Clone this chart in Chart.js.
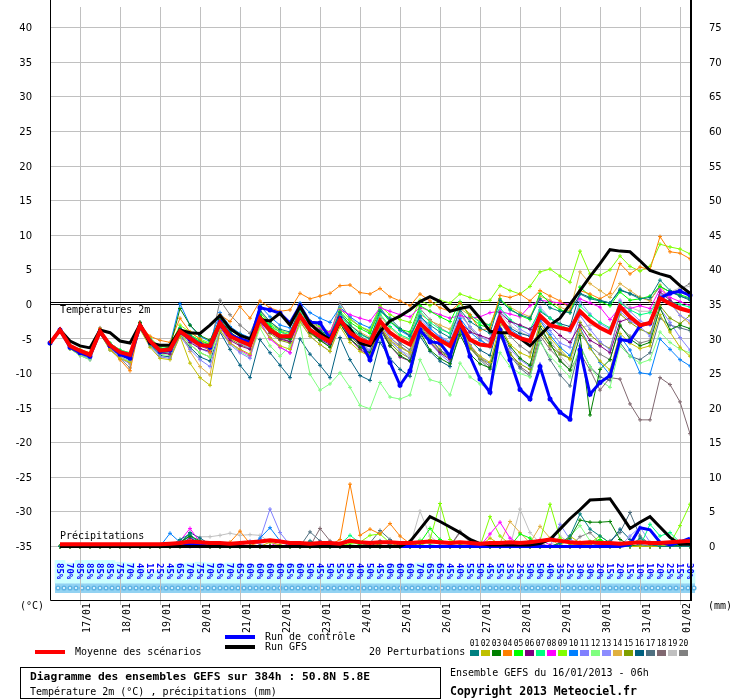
<!DOCTYPE html>
<html lang="fr">
<head>
<meta charset="utf-8">
<title>Diagramme des ensembles GEFS</title>
<script src="https://cdn.jsdelivr.net/npm/chart.js@4.4.1/dist/chart.umd.min.js"></script>
<style>
  html, body { margin: 0; padding: 0; background: #fff; }
  #wrap { width: 740px; height: 700px; }
</style>
</head>
<body>
<div id="wrap"><canvas id="gefs" width="740" height="700"></canvas></div>
<script>
// échéances toutes les 6h, de 0 à 384h (run du 16/01/2013 06h)
const HOURS = [];
for (let h = 0; h <= 384; h += 6) HOURS.push(h);

const DATES = ['17/01', '18/01', '19/01', '20/01', '21/01', '22/01', '23/01', '24/01',
               '25/01', '26/01', '27/01', '28/01', '29/01', '30/01', '31/01', '01/02'];

const TEMP_TICKS = [-35, -30, -25, -20, -15, -10, -5, 0, 5, 10, 15, 20, 25, 30, 35, 40];
const MM_TICKS = [0, 5, 10, 15, 20, 25, 30, 35, 40, 45, 50, 55, 60, 65, 70, 75];

// indice de confiance par pas de 6h (6h .. 384h)
const CONFIANCE = [85, 70, 85, 85, 85, 85, 75, 70, 40, 15,
                   25, 45, 65, 70, 75, 70, 65, 70, 65, 60,
                   60, 60, 60, 65, 60, 50, 45, 50, 55, 50,
                   40, 50, 45, 60, 60, 60, 70, 65, 65, 45,
                   40, 55, 50, 45, 55, 35, 25, 50, 50, 40,
                   35, 25, 30, 30, 20, 15, 20, 15, 10, 10,
                   20, 25, 15, 30];

// Température 2m (°C)
const T_MEAN = [-5.6,-3.7,-6.0,-6.7,-7.3,-3.9,-5.9,-6.9, -7.3,-3.0,-5.3,-6.7,-6.5,-3.9,-4.9,-5.9,
  -6.0,-2.7,-4.6,-5.3,-5.9,-2.0,-3.7,-4.6, -4.6,-1.6,-3.7,-4.6,-5.4,-2.2,-4.1,-5.1,
  -5.6,-2.4,-4.1,-5.1,-5.8,-2.7,-4.1,-5.2, -6.0,-2.7,-5.1,-5.8,-6.0,-2.0,-4.1,-4.9,
  -5.3,-1.6,-3.0,-3.4,-3.7,-1.0,-2.4,-3.4, -4.1,-0.3,-1.8,-3.0,-2.7,0.9,0.1,-0.6, -1.0];
const T_CONTROL = [-5.6,-3.7,-6.2,-7.0,-7.5,-4.0,-6.0,-7.2, -7.8,-3.2,-5.4,-6.8,-6.6,-4.0,-5.0,-5.8,
  -6.2,-2.6,-4.4,-5.0,-5.4,-0.5,-0.8,-1.3, -2.7,-0.2,-2.6,-2.7,-4.9,-2.0,-4.5,-5.2,
  -8.0,-4.1,-8.4,-11.7,-9.6,-3.7,-5.4,-5.6, -7.5,-2.7,-7.5,-10.8,-12.7,-3.7,-8.0,-12.3,
  -13.7,-9.0,-13.7,-15.6,-16.6,-6.6,-13.0,-11.3, -10.3,-5.1,-5.3,-3.1,-2.7,0.9,1.6,1.9, 1.3];
const T_GFS = [-5.6,-3.7,-5.3,-6.0,-6.3,-3.7,-4.1,-5.3, -5.6,-2.9,-5.6,-5.9,-5.9,-3.7,-4.1,-4.2,
  -3.0,-1.6,-3.5,-4.5,-5.0,-2.2,-2.4,-1.3, -3.0,-0.3,-2.8,-4.1,-5.1,-2.5,-3.5,-5.6,
  -6.0,-3.9,-2.4,-1.7,-0.8,0.4,1.1,0.4, -1.0,-0.6,-0.3,-2.0,-3.9,-4.1,-4.1,-4.9,
  -6.0,-4.5,-3.0,-2.0,0.0,2.0,4.0,5.9, 7.9,7.7,7.6,6.3,4.9,4.4,4.0,2.7, 1.6];

const T_P01 = [-5.6,-3.6,-6.2,-7.0,-7.6,-3.8,-6.0,-7.2, -7.8,-3.2,-5.8,-7.0,-6.8,-3.5,-4.5,-5.5,
  -6.2,-2.0,-3.8,-4.4,-5.0,-1.0,-2.5,-3.6, -4.0,-0.6,-2.8,-3.8,-4.5,-1.2,-3.0,-4.2,
  -5.0,-1.0,-2.0,-3.5,-4.6,-1.8,-3.0,-4.0, -4.8,-0.8,-2.5,-3.4,-4.2,0.6,-0.8,-1.5,
  -2.0,0.8,-0.5,-1.0,-1.2,1.5,0.8,0.5, 0.2,2.2,1.5,0.8,1.0,3.5,2.0,1.2, 0.8];
const T_P02 = [-5.6,-3.8,-6.4,-7.2,-7.6,-4.2,-6.6,-7.8, -8.4,-3.6,-6.2,-7.8,-8.0,-4.6,-8.5,-10.6,
  -11.7,-3.8,-5.6,-6.5,-7.2,-3.0,-4.8,-6.0, -6.5,-2.5,-4.6,-5.8,-6.8,-3.2,-5.5,-6.8,
  -7.5,-3.0,-5.2,-6.2,-7.0,-2.8,-4.6,-6.0, -7.2,-3.4,-6.0,-7.5,-8.4,-3.0,-5.8,-7.0,
  -7.6,-2.8,-4.8,-6.5,-8.0,-3.6,-6.4,-8.2, -9.5,-4.2,-5.6,-6.4,-6.0,-1.5,-4.0,-6.2, -7.5];
const T_P03 = [-5.6,-3.7,-6.1,-6.9,-7.4,-3.7,-5.8,-6.8, -7.2,-2.6,-5.2,-6.5,-6.2,-0.6,-3.0,-4.5,
  -5.2,-2.2,-4.0,-5.0,-5.8,-1.8,-3.5,-4.8, -5.0,-1.5,-4.0,-5.2,-6.2,-2.8,-5.0,-6.2,
  -7.0,-3.6,-6.0,-7.4,-8.2,-4.0,-6.6,-7.8, -8.6,-4.4,-7.2,-8.6,-9.2,-3.6,-6.0,-7.8,
  -8.8,-3.2,-5.6,-8.2,-9.5,-4.5,-16.0,-9.4, -8.0,-3.0,-5.0,-6.0,-5.5,-0.5,-3.7,-3.0, -3.5];
const T_P04 = [-5.6,-3.6,-6.0,-6.6,-7.0,-3.5,-6.4,-8.0, -9.6,-3.0,-4.6,-5.2,-5.5,-2.0,-4.0,-5.0,
  -7.0,-1.5,-2.5,-0.3,-2.0,0.5,-0.5,-1.0, -0.8,1.6,0.8,1.2,1.6,2.7,2.8,1.7,
  1.5,2.3,1.1,0.5,-0.2,1.5,0.5,-0.5, -1.0,0.2,-1.5,-3.7,-3.5,1.3,1.0,1.5,
  0.5,2.0,1.2,0.5,-0.5,2.0,1.5,0.8, 1.6,5.9,4.4,5.4,5.0,9.8,7.6,7.4, 6.6];
const T_P05 = [-5.6,-3.7,-6.3,-7.0,-7.5,-4.0,-6.2,-7.0, -7.5,-3.4,-5.5,-6.8,-6.6,-3.6,-4.4,-5.2,
  -5.8,-2.5,-4.3,-5.0,-5.6,-1.5,-3.2,-4.4, -5.0,-0.6,-3.0,-3.8,-4.6,-1.0,-2.6,-3.5,
  -4.2,-0.8,-2.5,-3.6,-4.0,-0.2,-1.0,-1.8, -2.5,0.4,-1.8,-3.0,-3.4,0.8,-0.6,-1.6,
  -2.2,1.6,0.2,-0.8,-1.2,2.5,1.2,0.4, -0.2,1.8,0.6,0.8,1.2,2.6,1.8,1.4, 0.9];
const T_P06 = [-5.6,-3.8,-6.2,-6.8,-7.3,-3.8,-6.0,-7.0, -7.4,-3.2,-5.6,-7.0,-7.2,-4.0,-5.5,-6.4,
  -6.8,-3.2,-5.2,-6.0,-6.5,-2.6,-4.0,-5.0, -5.4,-2.0,-4.0,-5.0,-5.8,-2.8,-5.0,-6.5,
  -7.5,-3.2,-6.0,-7.6,-8.2,-3.5,-5.5,-7.0, -8.0,-2.6,-4.0,-4.5,-5.0,-1.2,-2.5,-3.0,
  -3.6,-2.0,-3.2,-4.5,-5.5,-3.0,-5.2,-6.0, -7.0,-2.5,-2.0,-3.0,-2.8,1.8,0.6,-0.4, -1.0];
const T_P07 = [-5.6,-3.6,-6.0,-6.6,-7.1,-3.7,-5.6,-6.6, -7.0,-2.8,-5.0,-6.4,-6.2,-3.4,-4.5,-5.4,
  -5.8,-2.4,-4.2,-5.0,-5.4,-1.5,-3.0,-4.0, -4.4,-1.0,-3.0,-4.0,-4.8,-1.4,-3.4,-4.4,
  -5.0,-1.4,-3.2,-4.4,-5.0,-1.0,-2.6,-3.6, -4.2,0.2,-1.5,-2.6,-3.0,-0.5,-2.2,-3.2,
  -3.6,-0.8,-2.0,-3.0,-3.6,-0.2,-1.6,-2.6, -3.4,0.2,-0.8,-1.5,-1.2,1.0,0.4,0.0, -0.4];
const T_P08 = [-5.6,-3.7,-6.1,-6.8,-7.2,-3.9,-6.1,-7.0, -7.4,-3.0,-5.4,-6.8,-6.7,-3.9,-5.0,-6.0,
  -6.4,-3.2,-5.5,-6.6,-7.4,-2.6,-5.0,-6.2, -7.0,-1.4,-3.0,-3.6,-4.0,-0.8,-1.5,-2.0,
  -2.4,-0.5,-1.0,-1.5,-1.8,-0.4,-1.0,-1.5, -2.0,-1.6,-2.0,-1.8,-1.2,-1.0,-1.4,-1.8,
  -0.2,0.6,0.4,0.2,0.0,0.8,0.2,-0.4, -2.2,-0.4,-0.6,-0.2,-0.6,2.2,1.0,0.4, -0.2];
const T_P09 = [-5.6,-3.6,-5.9,-6.5,-7.0,-3.6,-5.6,-6.6, -7.0,-2.8,-4.8,-6.2,-6.0,-3.0,-4.0,-5.0,
  -5.6,-2.0,-3.5,-4.4,-5.0,-1.2,-2.8,-3.8, -4.2,-0.8,-2.4,-3.2,-4.0,-0.6,-2.2,-3.2,
  -3.8,-0.2,-1.5,-2.2,-2.6,0.6,-0.2,0.6, 0.2,1.5,1.0,0.5,0.6,2.7,2.0,1.5,
  2.6,4.7,5.1,4.1,3.2,7.7,4.4,4.2, 5.0,7.0,5.5,4.8,5.5,8.7,8.3,8.0, 7.3];
const T_P10 = [-5.6,-3.7,-6.0,-6.8,-7.2,-3.8,-5.8,-6.8, -7.2,-3.0,-5.0,-6.2,-5.8,0.1,-3.0,-4.6,
  -5.4,-1.2,-3.2,-4.2,-4.8,-0.2,-1.8,-3.0, -3.4,0.2,-1.2,-2.0,-2.6,-0.4,-1.8,-2.8,
  -3.4,-0.5,-2.5,-3.8,-4.6,-1.6,-3.4,-4.8, -5.6,-2.0,-4.0,-5.2,-6.0,-1.8,-3.6,-4.6,
  -5.4,-2.4,-4.4,-6.2,-7.4,-3.4,-6.2,-8.4, -10.2,-4.6,-6.6,-9.9,-10.1,-5.0,-6.5,-8.0, -8.9];
const T_P11 = [-5.6,-3.7,-6.3,-7.2,-7.8,-4.0,-6.6,-7.8, -8.6,-3.4,-6.0,-7.6,-7.8,-4.6,-6.5,-8.0,
  -9.0,-3.8,-5.8,-7.0,-7.8,-2.6,-4.8,-6.2, -7.0,-2.4,-4.6,-5.8,-6.8,-2.6,-4.4,-5.6,
  -6.6,-3.0,-5.2,-6.6,-7.8,-3.4,-5.6,-7.2, -8.4,-3.2,-5.8,-7.6,-8.6,-3.8,-6.4,-8.0,
  -9.0,-2.2,-3.8,-5.6,-6.2,-1.6,-3.6,-5.4, -6.6,-1.0,-2.4,-3.2,-4.6,-0.6,-2.6,-4.8, -6.6];
const T_P12 = [-5.6,-3.8,-6.4,-7.4,-8.0,-4.2,-6.6,-7.8, -8.2,-3.6,-5.8,-7.2,-7.4,-4.2,-5.8,-7.0,
  -7.6,-3.4,-5.6,-6.8,-7.6,-3.4,-6.0,-7.5, -6.0,-3.0,-10.1,-12.4,-11.5,-9.9,-12.0,-14.6,
  -15.1,-11.3,-13.4,-13.7,-13.1,-8.0,-10.9,-11.3, -13.1,-8.5,-10.5,-11.5,-12.3,-7.0,-9.0,-10.0,
  -10.5,-5.5,-7.5,-9.0,-10.5,-6.0,-9.0,-11.0, -12.0,-6.0,-7.5,-8.5,-8.0,-4.0,-5.5,-6.5, -7.0];
const T_P13 = [-5.6,-3.7,-6.2,-7.0,-7.5,-4.0,-6.4,-7.6, -8.2,-3.4,-5.8,-7.2,-7.0,-3.6,-5.2,-6.4,
  -7.0,-2.8,-4.6,-5.6,-6.4,-2.0,-3.6,-4.6, -5.2,-1.2,-3.6,-5.0,-6.0,-2.4,-4.4,-5.8,
  -6.8,-2.8,-4.8,-6.2,-7.0,-2.0,-3.6,-4.6, -5.4,-1.4,-3.2,-4.6,-5.4,-0.8,-2.4,-3.6,
  -4.4,-0.4,-2.0,-3.2,-4.0,0.4,-1.4,-2.8, -3.6,0.6,-1.0,-2.4,-3.0,1.4,0.2,-1.6, -2.4];
const T_P14 = [-5.6,-3.6,-6.2,-7.0,-7.4,-3.8,-6.2,-7.4, -8.6,-3.0,-5.2,-6.8,-7.2,-3.8,-6.8,-9.0,
  -10.2,-3.0,-4.2,-5.0,-5.6,-1.8,-3.2,-4.0, -4.6,-0.8,-2.6,-3.6,-4.2,-1.4,-3.0,-4.0,
  -4.8,-1.6,-3.4,-4.6,-5.2,-1.4,-2.4,-3.0, -3.6,-0.6,-1.6,-2.4,-3.0,0.6,-0.4,-1.2,
  -1.8,1.2,0.6,-0.4,-1.0,4.7,3.0,2.0, 1.0,3.0,2.0,1.0,0.5,2.8,0.6,-1.6, -2.8];
const T_P15 = [-5.6,-3.7,-6.0,-6.7,-7.2,-3.9,-6.0,-7.0, -7.6,-3.2,-5.6,-7.0,-7.0,-4.2,-5.8,-7.0,
  -7.6,-3.0,-5.0,-5.8,-6.4,-2.4,-4.2,-5.2, -5.6,-2.2,-4.2,-5.2,-6.0,-2.4,-4.6,-5.8,
  -6.8,-3.2,-5.6,-7.0,-7.8,-3.0,-5.4,-6.8, -7.8,-4.0,-6.4,-7.8,-8.6,-4.6,-7.2,-8.6,
  -9.4,-4.0,-6.0,-7.2,-7.8,-2.6,-4.4,-5.6, -6.4,-1.4,-2.6,-3.6,-4.2,-0.2,-2.0,-2.8, -1.6];
const T_P16 = [-5.6,-3.8,-6.4,-7.2,-7.8,-4.0,-6.4,-7.4, -8.0,-3.4,-5.8,-7.4,-7.6,-4.4,-6.2,-7.6,
  -8.2,-4.0,-6.5,-8.8,-10.6,-5.1,-7.0,-8.8, -10.6,-5.0,-7.2,-8.8,-10.6,-4.8,-8.0,-10.3,
  -11.0,-5.5,-7.8,-9.4,-10.4,-4.6,-6.8,-8.2, -9.0,-3.8,-5.2,-6.6,-7.4,-2.2,-3.4,-4.2,
  -4.6,-1.0,-2.0,-2.8,-3.2,1.6,1.0,0.6, 0.2,2.0,1.6,1.0,0.6,2.6,1.8,1.2, 0.6];
const T_P17 = [-5.6,-3.6,-6.2,-7.0,-7.6,-3.6,-5.8,-7.0, -7.6,-3.0,-5.2,-6.6,-6.4,-3.4,-4.6,-5.6,
  -6.2,-2.4,-4.4,-5.4,-6.0,-1.6,-3.4,-4.6, -5.0,-1.6,-3.6,-4.8,-5.6,-1.8,-3.6,-4.6,
  -5.4,-2.0,-4.2,-5.6,-6.6,-2.4,-4.8,-6.6, -7.6,-3.8,-6.2,-8.0,-9.4,-4.6,-7.4,-9.2,
  -10.4,-5.2,-8.0,-10.2,-11.8,-6.0,-9.0,-10.5, -11.0,-5.5,-7.5,-8.0,-7.0,-2.0,-3.0,-3.4, -3.8];
const T_P18 = [-5.6,-3.7,-6.1,-6.9,-7.4,-3.9,-6.0,-7.0, -7.5,-3.2,-5.4,-6.8,-6.7,-3.8,-5.0,-6.0,
  -6.6,-2.8,-4.6,-5.4,-6.0,-1.8,-3.6,-4.8, -5.4,-2.0,-4.0,-5.2,-6.0,-2.4,-4.6,-6.0,
  -6.8,-2.6,-4.8,-6.0,-7.0,-2.8,-5.0,-6.6, -7.6,-3.2,-6.0,-7.8,-9.0,-4.0,-7.0,-9.0,
  -10.0,-4.5,-6.5,-8.0,-9.5,-7.0,-9.5,-12.4, -10.6,-10.8,-14.4,-16.7,-16.7,-10.6,-11.6,-14.1, -18.7];
const T_P19 = [-5.6,-3.7,-6.2,-7.0,-7.5,-3.8,-6.0,-7.2, -7.8,-3.4,-5.6,-7.0,-7.0,-3.8,-5.2,-6.4,
  -7.0,-2.8,-4.6,-5.6,-6.2,-2.0,-3.8,-5.0, -5.4,-1.8,-3.6,-4.6,-5.2,-2.6,-4.8,-6.4,
  -7.2,-3.4,-5.4,-6.6,-7.4,-2.4,-4.2,-5.4, -6.2,-1.6,-3.2,-4.6,-5.6,-1.4,-3.0,-4.0,
  -4.6,-2.0,-5.0,-7.4,-9.0,-3.4,-3.0,-3.4, -4.0,0.4,-0.4,-1.0,-1.0,1.4,1.8,2.4, 2.6];
const T_P20 = [-5.6,-3.7,-6.4,-7.4,-8.0,-3.4,-6.4,-7.8, -9.2,-2.6,-5.0,-6.4,-6.6,-3.6,-4.8,-5.8,
  -6.4,0.6,-1.5,-3.0,-4.2,-0.8,-2.5,-3.8, -4.6,-0.5,-2.4,-3.4,-4.4,0.2,-2.0,-3.2,
  -4.0,-0.4,-2.4,-3.6,-4.4,-0.6,-2.2,-3.4, -4.2,-1.0,-3.4,-5.0,-6.2,-2.6,-4.6,-6.0,
  -7.0,-3.6,-5.6,-7.0,-7.8,-4.2,-6.0,-7.2, -8.0,-3.2,-4.6,-5.6,-5.2,1.2,1.6,2.2, 3.0];

// Précipitations (mm / 6h)
const R_MEAN = [null,0.3,0.3,0.3,0.3,0.3,0.3,0.3,0.3,0.3,0.3,0.3,0.4,
  0.5,0.7,0.6,0.5,0.5,0.4,0.5,0.6,0.7,0.9,0.7,0.5,0.5,
  0.4,0.5,0.5,0.4,0.8,0.6,0.5,0.6,0.6,0.5,0.5,0.6,0.7,
  0.6,0.5,0.6,0.5,0.4,0.5,0.5,0.6,0.5,0.6,0.8,1.0,0.8,
  0.6,0.5,0.6,0.5,0.5,0.4,0.5,0.6,0.5,0.5,0.6,0.7,0.8];
const R_CONTROL = [null,0,0,0,0,0,0,0,0,0,0,0,0, 0,0.3,0.2,0,0,0,0,0,0,0,0,0,0,
  0,0,0,0,0,0,0,0,0,0,0,0,0, 0,0,0,0,0,0,0,0,0,0,0,0,0,
  0,0,0,0,0,0,0.3,2.7,2.4,0.6,0.2,0.6,1.2];
const R_GFS = [null,0,0,0,0,0,0,0,0,0,0,0,0, 0,0,0,0,0,0,0,0,0,0,0,0,0,
  0,0,0,0,0,0,0,0,0,0,0.7,2.5,4.3, 3.6,2.8,2.0,1.0,0.4,0.2,0.2,0.2,0.2,0.2,0.4,1.0,2.5,
  4.0,5.3,6.7,6.8,6.9,4.8,2.6,3.5,4.3,2.8,1.3,0.3,0.3];

const R_P01 = [null,0,0,0,0,0,0,0,0,0,0,0,0, 1.0,1.8,0.3,0,0,0,0,0,0,0,0,0,0,
  0.8,0.2,0,0,0,0,0,0,0,0,0,0,0, 0,0,0,0,0,0,0,0,0,0,0,0,0.4,
  1.5,4.7,2.5,1.5,0.5,0,0,1.2,0.3,0,0,0,0];
const R_P02 = [null,0,0,0,0,0,0,0,0,0,0,0,0, 0.3,0.8,0.2,0,0,0,0,0,0,0.6,0.2,0,0,
  0,0,0,0,0,0,0,0,0,0,0,0,0, 0,0,0,0,0,1.2,0.3,0,0,0,0,0,0,
  1.5,0.5,0,0,0,0,0,0,0,0,0.3,0.5,0.6];
const R_P03 = [null,0,0,0,0,0,0,0,0,0,0,0,0.2, 0.6,1.5,0.8,0.2,0,0,0,0,0,0,0,0,0,
  0,0,0,0,0,0,0,0,0,0,0,0,0, 0,0,0,0,0,0,0,0,0,0,0,0,0.5,
  1.2,3.8,3.5,3.5,3.6,1.0,0.2,0,0,0,0,0.2,0.4];
const R_P04 = [null,0,0,0,0,0,0,0,0,0,0,0,0, 0,0.3,0.2,0,0,0.6,2.2,0.4,0,0,0,0,0,
  0,0,0.2,1.0,9.0,1.6,2.5,1.8,3.3,1.5,0.4,0,0, 0,0,0,0,0,0,0,0,0,0,0,0,0,
  0,0.6,0.2,0,0,0,0,0,0,0,0,0,0];
const R_P05 = [null,0,0,0,0,0,0,0,0,0,0,0,0, 0.4,1.6,0.5,0,0,0,0,0,0,0,0,0,0,
  0,0,0,0,0.8,0.2,0,0,0,0,0,0.5,2.6, 1.0,0.3,0,0,0,0,0,0,1.8,1.2,0,0,0,
  0,0.3,0.5,1.0,0.3,0,0,0,0,0,0,0,0];
const R_P06 = [null,0,0,0,0,0,0,0,0,0,0,0,0, 0.3,1.2,0.4,0,0,0,0,0,0,0,0,0,0,
  0,0.6,0.2,0,0,0,0,0,0,0,0,0,0, 0,0,0,0,0,0,0,0,0,0.8,0.3,0,0,
  0,0,0,0,0,0,0,0,0,0.3,0.5,0.4,0.3];
const R_P07 = [null,0,0,0,0,0,0,0,0,0,0,0,0, 0,0.5,0.3,0,0,0,0,0,0,0,0,0,0,
  0,0,0,0.3,1.6,0.5,0,0,0,0,0,0,0, 0,0,0,0,0,0,0,0,0,0,0,0,0,
  0,0.4,0.6,0,0,0,0,0,3.2,1.5,2.0,0.6,0.3];
const R_P08 = [null,0,0,0,0,0,0,0,0,0,0,0,0, 0.8,2.6,0.6,0,0,0,0,0,0,0,0.8,0.2,0,
  0,0,0,0,0,0,0,0,0,0,0,0,0, 0,0,0,0,0,1.8,3.5,1.2,0.3,0,1.0,0.2,0,
  0,0,0,0.3,0.2,0,0,0,0,0,0,0.8,0.4];
const R_P09 = [null,0,0,0,0,0,0,0,0,0,0,0,0, 0,0.4,0.2,0,0,0,0,0,0,0,0,0,0,
  0,0,0,0,0.4,0.6,1.6,1.8,0.5,0,0,0,1.0, 6.2,1.0,0.3,0,0,4.3,1.5,0.3,0,0,0.8,6.1,1.2,
  0.3,0,0.5,1.5,0.5,0,0,0,0,0,0.4,3.0,6.1];
const R_P10 = [null,0,0,0,0,0,0,0,0,0,0,0,1.9, 0.6,1.4,0.3,0,0,0,0,0,1.2,2.7,0.8,0,0,
  0,0,0,0,0,0,0,0,0,0,0,0,0, 0,0,0,0,0,0,0,0,0,0,0,0,0,
  0,0,0,0,0,0.3,0.6,0.3,0,0,0,0.4,0.8];
const R_P11 = [null,0,0,0,0,0,0,0,0,0,0,0,0, 0,0.3,0,0,0,0,0,0,1.0,5.4,2.0,0.2,0,
  0,0,0,0,0,0,0,0,0,0,0,0,0, 0,0,0,0,0,0,0,0,0,0,0,0,3.2,
  1.0,0.2,0,0,0,0,0,0,0,0,0,0.3,0];
const R_P12 = [null,0,0,0,0,0,0,0,0,0,0,0,0, 0,0.3,0,0,0,0,0,0,0,0,0,0,0,
  0,0,0,0,0.3,0,0,0,0,0,0,1.0,0.3, 0,0,0,0,0,0,0,0,0,0,0,0,0,
  1.5,3.0,0.8,0,0,0,0,0,0,0,0,0,0];
const R_P13 = [null,0,0,0,0,0,0,0,0,0,0,0,0, 0,0.5,0.2,0,0,0,0,0.8,0.3,0,0,0,0,
  0,0,0,0,0,0,0,0,0,0,0,0,0, 0,0,0,0,0,0,0,0,0,0,0,0,0,
  0,0,0,0,0,0,1.5,2.8,0.6,0,0,0,0];
const R_P14 = [null,0,0,0,0,0,0,0,0,0,0,0,0, 0,0.2,0,0,0,0,0,0,0,0,0,0,0,
  0,0,0,0,0,0,0,0,0,0,0.8,0.3,0, 0,0,0,0,0,0,0.5,3.6,2.0,0.5,2.9,1.2,0,
  0,0,0,0,0,0,0,0,0,0,0,0.3,0.4];
const R_P15 = [null,0,0,0,0,0,0,0,0,0,0,0,0, 0.2,0.6,0.2,0,0,0,0,0,0,0,0,0,0,
  0,0,0,0,0,0,0.5,0.2,0,0,0,0,0, 0,0,0,0,0,0,0,0,0,0,0,0,0,
  0,0,0.3,0.8,0.3,0,0,0,0,0,0,0,0];
const R_P16 = [null,0,0,0,0,0,0,0,0,0,0,0,0, 0.5,2.0,1.2,0.3,0,0,0,0,0,0,0,0,0,
  0,0,0,0,0,0,0,0.8,0.2,0,0,0,0, 0,0,0,0,0,0,0,0,0,0,0,0,0,
  0,0,0,0,0.5,2.5,1.0,0,0,0,0,0,0];
const R_P17 = [null,0,0,0,0,0,0,0,0,0,0,0,0, 0,0,0,0,0,0,0,0,0,0,0,0,0,
  2.1,0.8,0,0,0,0,0.5,2.3,1.0,0,0,0,0, 0,0,0,0,0,0,0,0,0,0,0,0,0,
  0,0,0,0,0.8,2.0,4.9,1.5,0.3,0,0,0,0];
const R_P18 = [null,0,0,0,0,0,0,0,0,0,0,0,0, 0,0,0,0,0,0,0,0,0,0,0,0,0,
  0,2.6,0.8,0,0,0,0,0,0,0,0,0,0, 0,0,2.0,0.6,0,0,0,0,0,0,0,0,0,
  0,0,0,0,0,0,0,0,0,0,0,0,0];
const R_P19 = [null,0,0,0,0,0,0,0,0,0,0,0,0, 0,0.4,1.4,1.4,1.6,1.9,1.6,1.7,1.6,0.6,0,0,0,
  0,0,0,0,0,0,0,0,0,0,0,5.1,1.5, 0.3,0,0,0,0,0,0,0,5.4,2.0,0.5,0,1.5,
  0.5,0,0,0,0,0,0,1.0,0.3,0,0,0,0];
const R_P20 = [null,0,0,0,0,0,0,0,0,0,0,0,0, 0.5,1.8,0.4,0,0,0,0,0,0,0,0,0,0,
  0,0,0,0,0,0,0,0,0,0,0,0,0, 0,0,2.2,1.0,0,0,0,0,0,0,0,0,0,
  0,1.4,2.0,0.5,0,0,0,0,0,0,0,0,0];

const PERT_T = [T_P01, T_P02, T_P03, T_P04, T_P05, T_P06, T_P07, T_P08, T_P09, T_P10,
                T_P11, T_P12, T_P13, T_P14, T_P15, T_P16, T_P17, T_P18, T_P19, T_P20];
const PERT_R = [R_P01, R_P02, R_P03, R_P04, R_P05, R_P06, R_P07, R_P08, R_P09, R_P10,
                R_P11, R_P12, R_P13, R_P14, R_P15, R_P16, R_P17, R_P18, R_P19, R_P20];

const PERT_COLORS = ['#008080', '#c0c000', '#008000', '#ff8000', '#00ff00', '#800080', '#00ff80',
                     '#ff00ff', '#80ff00', '#0080ff', '#8080ff', '#80ff80', '#8c8cff', '#e0b040',
                     '#80a000', '#006080', '#507080', '#806870', '#c0c0c0', '#808080'];

const GRID = '#c0c0c0';
const MONO = '"DejaVu Sans Mono", "Liberation Mono", monospace';
const BAND_BASE = -44;   // pied des barres de confiance (583 px)

function isDayIndex(i) {
    return (i + 1) % 4 === 0;
}

// jeux de données
const datasets = [];

datasets.push({ label: 'Moyenne', data: T_MEAN, borderColor: '#ff0000', borderWidth: 4,
                pointRadius: 0, order: 0, yAxisID: 'y' });
datasets.push({ label: 'Moyenne pr', data: R_MEAN, borderColor: '#ff0000', borderWidth: 4,
                pointRadius: 0, order: 0, yAxisID: 'y2' });
datasets.push({ label: 'GFS', data: T_GFS, borderColor: '#000000', borderWidth: 3,
                pointRadius: 0, order: 1, yAxisID: 'y' });
datasets.push({ label: 'GFS pr', data: R_GFS, borderColor: '#000000', borderWidth: 3,
                pointRadius: 0, order: 1, yAxisID: 'y2' });
datasets.push({ label: 'Contrôle', data: T_CONTROL, borderColor: '#0000ff', borderWidth: 3,
                pointRadius: 1, pointBackgroundColor: '#0000ff', pointBorderColor: '#0000ff',
                order: 2, yAxisID: 'y' });
datasets.push({ label: 'Contrôle pr', data: R_CONTROL, borderColor: '#0000ff', borderWidth: 3,
                pointRadius: 0, order: 2, yAxisID: 'y2' });

PERT_T.forEach((serie, k) => {
    const c = PERT_COLORS[k];
    const common = { borderColor: c, borderWidth: 1, pointStyle: 'cross', pointRadius: 2,
                     pointBorderWidth: 1, pointBorderColor: c, pointBackgroundColor: c,
                     order: 3 + k };
    datasets.push(Object.assign({ label: 'P' + (k + 1), data: serie, yAxisID: 'y' }, common));
    datasets.push(Object.assign({ label: 'P' + (k + 1) + ' pr', data: PERT_R[k], yAxisID: 'y2' }, common));
});

datasets.push({
    type: 'bar',
    label: 'Confiance',
    data: [null].concat(CONFIANCE.map(p => [BAND_BASE, p])),
    backgroundColor: '#ccffff',
    borderWidth: 0,
    barPercentage: 1,
    categoryPercentage: 1,
    clip: false,
    yAxisID: 'yp',
    order: 100
});

function drawBand(ctx, left, right) {
    ctx.fillStyle = '#92d2f2';
    ctx.fillRect(left, 583, right - left, 10);
    for (let x = left; x < right; x += 6) {
        ctx.fillStyle = '#5fb4e4';
        ctx.beginPath();
        ctx.arc(x + 3, 588, 2.6, 0, Math.PI * 2);
        ctx.fill();
        ctx.fillStyle = '#d4f0ff';
        ctx.fillRect(x + 2, 587, 2, 2);
    }
}

const decor = {
    id: 'decor',
    beforeDatasetsDraw(chart) {
        const ctx = chart.ctx;
        const area = chart.chartArea;
        const y0 = chart.scales.y.getPixelForValue(0);
        ctx.save();
        drawBand(ctx, area.left + 5, area.right + 5);
        ctx.strokeStyle = '#000';
        ctx.lineWidth = 1;
        ctx.beginPath();
        ctx.moveTo(area.left, Math.round(y0) - 1.5);
        ctx.lineTo(area.right, Math.round(y0) - 1.5);
        ctx.moveTo(area.left, Math.round(y0) + 0.5);
        ctx.lineTo(area.right, Math.round(y0) + 0.5);
        ctx.stroke();
        ctx.restore();
    },
    afterDatasetsDraw(chart) {
        const ctx = chart.ctx;
        const area = chart.chartArea;
        const xs = chart.scales.x;
        const ys = chart.scales.y;
        const y2 = chart.scales.y2;
        ctx.save();

        // lignes de jours à travers la bande
        ctx.strokeStyle = GRID;
        ctx.lineWidth = 1;
        HOURS.forEach((h, i) => {
            if (!isDayIndex(i)) return;
            const x = Math.round(xs.getPixelForValue(i)) + 0.5;
            ctx.beginPath();
            ctx.moveTo(x, 552);
            ctx.lineTo(x, area.bottom + 5);
            ctx.stroke();
        });

        // pourcentages
        ctx.fillStyle = '#0000ff';
        ctx.font = 'bold 9px ' + MONO;
        ctx.textAlign = 'left';
        ctx.textBaseline = 'middle';
        CONFIANCE.forEach((p, k) => {
            const x = xs.getPixelForValue(k + 1) - 1;
            ctx.save();
            ctx.translate(x, 563);
            ctx.rotate(Math.PI / 2);
            ctx.fillText(p + '%', 0, 0);
            ctx.restore();
        });

        // cadre
        ctx.strokeStyle = '#000';
        ctx.lineWidth = 1;
        ctx.beginPath();
        ctx.moveTo(area.left + 0.5, 0);
        ctx.lineTo(area.left + 0.5, area.bottom + 0.5);
        ctx.lineTo(area.right, area.bottom + 0.5);
        ctx.stroke();
        ctx.lineWidth = 2;
        ctx.beginPath();
        ctx.moveTo(area.right + 1, 0);
        ctx.lineTo(area.right + 1, area.bottom + 1);
        ctx.stroke();

        // graduations
        ctx.fillStyle = '#000';
        ctx.font = '10px "DejaVu Sans", sans-serif';
        ctx.textBaseline = 'middle';
        ctx.textAlign = 'right';
        TEMP_TICKS.forEach(v => ctx.fillText(String(v), 32, ys.getPixelForValue(v) + 1));
        ctx.textAlign = 'left';
        MM_TICKS.forEach(v => ctx.fillText(String(v), 709, y2.getPixelForValue(v) + 1));

        ctx.font = '10px ' + MONO;
        ctx.fillText('Températures 2m', 60, ys.getPixelForValue(0) + 6);
        ctx.fillText('Précipitations', 60, ys.getPixelForValue(-35) - 10);
        ctx.fillText('(°C)', 20, 606);
        ctx.fillText('(mm)', 708, 606);

        // dates
        ctx.textAlign = 'right';
        HOURS.forEach((h, i) => {
            if (!isDayIndex(i)) return;
            const x = xs.getPixelForValue(i) + 7;
            ctx.save();
            ctx.translate(x, 603);
            ctx.rotate(-Math.PI / 2);
            ctx.fillText(DATES[(i + 1) / 4 - 1], 0, 0);
            ctx.restore();
        });

        // légende
        ctx.textAlign = 'left';
        ctx.fillStyle = '#ff0000';
        ctx.fillRect(35, 650, 30, 4);
        ctx.fillStyle = '#0000ff';
        ctx.fillRect(225, 635, 30, 4);
        ctx.fillStyle = '#000';
        ctx.fillRect(225, 645, 30, 4);
        ctx.fillText('Moyenne des scénarios', 75, 652);
        ctx.fillText('Run de contrôle', 265, 637);
        ctx.fillText('Run GFS', 265, 647);
        ctx.fillText('20 Perturbations', 369, 652);

        ctx.font = '8px ' + MONO;
        ctx.textAlign = 'center';
        PERT_COLORS.forEach((c, k) => {
            const x = 470 + 11 * k;
            ctx.fillStyle = c;
            ctx.fillRect(x, 650, 9, 6);
            ctx.fillStyle = '#000';
            ctx.fillText(String(k + 1).padStart(2, '0'), x + 4.5, 644);
        });

        // cartouche
        ctx.strokeStyle = '#000';
        ctx.lineWidth = 1;
        ctx.strokeRect(20.5, 667.5, 420, 31);
        ctx.textAlign = 'left';
        ctx.fillStyle = '#000';
        ctx.font = 'bold 11.3px ' + MONO;
        ctx.fillText('Diagramme des ensembles GEFS sur 384h : 50.8N 5.8E', 30, 677);
        ctx.font = '10px ' + MONO;
        ctx.fillText('Température 2m (°C) , précipitations (mm)', 30, 692);
        ctx.fillText('Ensemble GEFS du 16/01/2013 - 06h', 450, 673);
        ctx.font = 'bold 11.5px ' + MONO;
        ctx.fillText('Copyright 2013 Meteociel.fr', 450, 692);

        ctx.restore();
    }
};

new Chart(document.getElementById('gefs'), {
    type: 'line',
    data: { labels: HOURS, datasets: datasets },
    options: {
        responsive: false,
        animation: false,
        events: [],
        devicePixelRatio: 1,
        layout: { padding: { left: 50, right: 50, top: 0, bottom: 100 } },
        elements: { line: { tension: 0, fill: false } },
        plugins: { legend: { display: false }, tooltip: { enabled: false } },
        scales: {
            x: {
                type: 'category',
                offset: false,
                grid: {
                    offset: false,
                    drawTicks: false,
                    color: c => isDayIndex(c.index) ? GRID : 'rgba(0,0,0,0)'
                },
                ticks: { display: false, autoSkip: false },
                border: { display: false }
            },
            y: {
                type: 'linear',
                position: 'left',
                min: -42.75,
                max: 43,
                afterBuildTicks: s => { s.ticks = TEMP_TICKS.map(v => ({ value: v })); },
                grid: { color: GRID, drawTicks: false },
                ticks: { display: false },
                border: { display: false }
            },
            y2: {
                type: 'linear',
                position: 'right',
                min: -7.75,
                max: 78,
                afterBuildTicks: s => { s.ticks = MM_TICKS.map(v => ({ value: v })); },
                grid: { display: false, drawTicks: false },
                ticks: { display: false },
                border: { display: false }
            },
            yp: { type: 'linear', display: false, min: -140, max: 3231 }
        }
    },
    plugins: [decor]
});
</script>
</body>
</html>
